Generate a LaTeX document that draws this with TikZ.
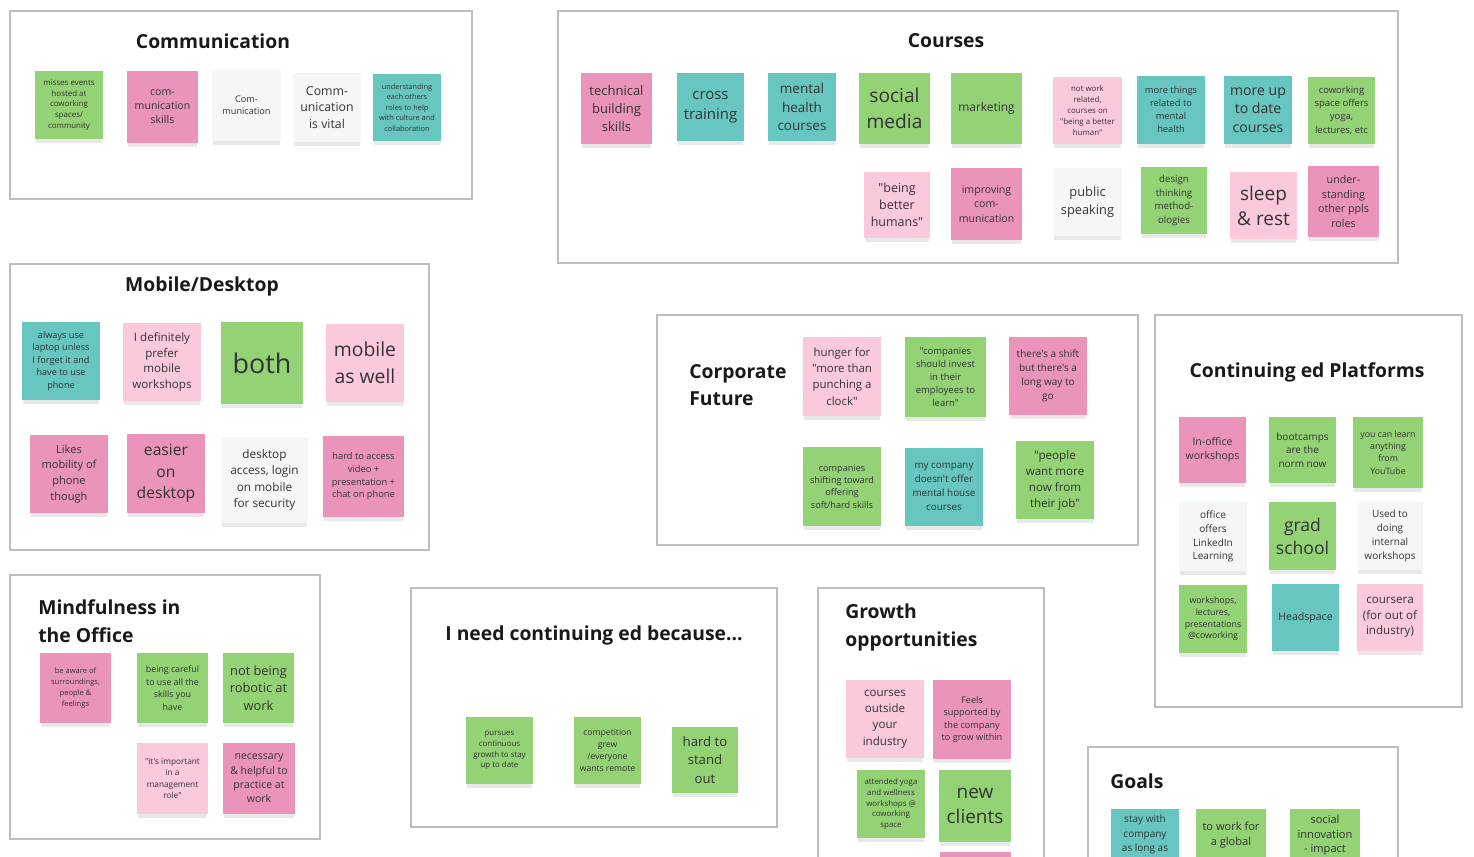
\documentclass[tikz,border=0pt]{standalone}
\usepackage{fontspec}
\setmainfont{Open Sans}[Ligatures=TeXOff]
\usepackage{xcolor}
\usetikzlibrary{shadows}

\definecolor{notegreen}{HTML}{93D275}
\definecolor{noteteal}{HTML}{67C6C0}
\definecolor{notepink}{HTML}{EA94BB}
\definecolor{notelight}{HTML}{FBC9DC}
\definecolor{notewhite}{HTML}{F5F6F8}
\definecolor{boardline}{HTML}{BDBDBD}

\begin{document}
\begin{tikzpicture}[x=0.02cm, y=-0.02cm,
  board/.style={draw=boardline, line width=0.7pt, fill=white},
  heading/.style={font=\fontsize{11}{16}\selectfont\bfseries, text=black!90, inner sep=0pt, align=left},
  note/.style={align=center, inner sep=1pt, text=black!80,
    drop shadow={shadow xshift=0pt, shadow yshift=-3pt, shadow scale=0.97, opacity=0.18}},
  sz/.style 2 args={minimum width=#1*0.02cm, minimum height=#2*0.02cm},
  fs/.style 2 args={font=\fontsize{#1}{#2}\selectfont},
  gn/.style={note, fill=notegreen},
  tl/.style={note, fill=noteteal},
  pk/.style={note, fill=notepink},
  lp/.style={note, fill=notelight},
  wh/.style={note, fill=notewhite},
  goaltext/.style={anchor=north, align=center, inner sep=0pt, text=black!80}]

\useasboundingbox (0,0) rectangle (1474,856);
\clip (0,0) rectangle (1474,856);
\fill[white] (0,0) rectangle (1474,856);

% Communication
\draw[board] (10,11) rectangle (472,199);
\node[heading] (comtitle) at (213,41) {Communication};
\node[gn, sz={68}{68}, fs={4.5}{6.2}] (missesevents) at (69,105) {misses events\\hosted at\\coworking\\spaces/\\community};
\node[pk, sz={71}{72}, fs={6}{8}] (comskills) at (162.5,107) {com-\\munication\\skills};
\node[wh, sz={69}{71}, fs={5.2}{6.7}] (comword) at (246.5,105.5) {Com-\\munication};
\node[wh, sz={68}{69}, fs={7}{9.6}] (comvital) at (327,107.5) {Comm-\\unication\\is vital};
\node[tl, sz={68}{67}, fs={4.2}{5.9}] (roles) at (407,107.5) {understanding\\each others\\roles to help\\with culture and\\collaboration};

% Courses
\draw[board] (558,11) rectangle (1398,263);
\node[heading] (coursetitle) at (946,41) {Courses};
\node[pk, sz={71}{71}, fs={7.4}{10.4}] (technical) at (616.5,108.5) {technical\\building\\skills};
\node[tl, sz={67}{68}, fs={8.5}{11.3}] (cross) at (710.5,107) {cross\\training};
\node[tl, sz={68}{68}, fs={7.7}{10.5}] (mentalhealth) at (802,107) {mental\\health\\courses};
\node[gn, sz={71}{71}, fs={10.9}{14.7}] (socialmedia) at (894.5,108.5) {social\\media};
\node[gn, sz={71}{71}, fs={6.8}{9}] (marketing) at (986.5,108.5) {marketing};
\node[lp, sz={66}{66}, fs={7.1}{9.5}] (humans) at (897,205) {"being\\better\\humans"};
\node[pk, sz={71}{72}, fs={6}{8.3}] (improving) at (986.5,204) {improving\\com-\\munication};
\node[lp, sz={69}{67}, fs={4.5}{6.2}] (notwork) at (1087.5,110.5) {not work\\related,\\courses on\\"being a better\\human"};
\node[tl, sz={68}{68}, fs={5.3}{7.4}] (morethings) at (1171,110) {more things\\related to\\mental\\health};
\node[tl, sz={68}{68}, fs={8}{10.6}] (uptodate) at (1258,110) {more up\\to date\\courses};
\node[gn, sz={67}{67}, fs={5.4}{7.4}] (coworking) at (1341.5,110.5) {coworking\\space offers\\yoga,\\lectures, etc};
\node[wh, sz={69}{68}, fs={7.3}{10}] (public) at (1087.5,202) {public\\speaking};
\node[gn, sz={66}{67}, fs={5.5}{7.8}] (design) at (1174,200.5) {design\\thinking\\method-\\ologies};
\node[lp, sz={67}{67}, fs={10.8}{14.2}] (sleep) at (1263.5,205.5) {sleep\\\& rest};
\node[pk, sz={71}{71}, fs={6.1}{8.5}] (understanding) at (1343.5,201.5) {under-\\standing\\other ppls\\roles};

% Mobile/Desktop
\draw[board] (10,264) rectangle (429,550);
\node[heading] (mobiletitle) at (202,286) {Mobile/Desktop};
\node[tl, sz={78}{78}, fs={5.2}{7.1}] (laptop) at (61,361) {always use\\laptop unless\\I forget it and\\have to use\\phone};
\node[lp, sz={78}{78}, fs={6.6}{9}] (prefer) at (162,362) {I definitely\\prefer\\mobile\\workshops};
\node[gn, sz={82}{82}, fs={15.3}{20}] (both) at (262,363) {both};
\node[lp, sz={78}{78}, fs={11}{15.3}] (aswell) at (365,363) {mobile\\as well};
\node[pk, sz={78}{78}, fs={6.3}{9}] (likes) at (69,474) {Likes\\mobility of\\phone\\though};
\node[pk, sz={78}{79}, fs={8.9}{12.3}] (easier) at (166,473.5) {easier\\on\\desktop};
\node[wh, sz={87}{86}, fs={6.7}{9.4}] (security) at (264.5,480) {desktop\\access, login\\on mobile\\for security};
\node[pk, sz={81}{81}, fs={5.3}{7.2}] (hardaccess) at (363.5,476.5) {hard to access\\video +\\presentation +\\chat on phone};

% Corporate Future
\draw[board] (657,315) rectangle (1138,545);
\node[heading, anchor=west, font=\fontsize{11}{15.3}\selectfont\bfseries] (corptitle) at (689,385.5) {Corporate\\Future};
\node[lp, sz={78}{79}, fs={6.5}{9.2}] (hunger) at (842,376.5) {hunger for\\"more than\\punching a\\clock"};
\node[gn, sz={81}{80}, fs={5.4}{7.5}] (invest) at (945.5,377) {"companies\\should invest\\in their\\employees to\\learn"};
\node[pk, sz={78}{78}, fs={5.7}{8}] (shift) at (1048,376) {there's a shift\\but there's a\\long way to\\go};
\node[gn, sz={78}{79}, fs={5.2}{6.9}] (shifting) at (842,486.5) {companies\\shifting toward\\offering\\soft/hard skills};
\node[tl, sz={78}{78}, fs={5.6}{7.9}] (mycompany) at (944,487) {my company\\doesn't offer\\mental house\\courses};
\node[gn, sz={78}{78}, fs={6.6}{9.1}] (wantmore) at (1055,480) {"people\\want more\\now from\\their job"};

% Continuing ed Platforms
\draw[board] (1155,315) rectangle (1462,707);
\node[heading] (platformtitle) at (1307,372) {Continuing ed Platforms};
\node[pk, sz={67}{66}, fs={6}{8}] (inoffice) at (1212.5,450) {In-office\\workshops};
\node[gn, sz={67}{66}, fs={5.7}{7.7}] (bootcamps) at (1302.5,450) {bootcamps\\are the\\norm now};
\node[gn, sz={70}{71}, fs={5}{7}] (youtube) at (1388,452.5) {you can learn\\anything\\from\\YouTube};
\node[wh, sz={68}{69}, fs={5.7}{7.9}] (linkedin) at (1213,536.5) {office\\offers\\LinkedIn\\Learning};
\node[gn, sz={67}{68}, fs={10}{13.2}] (gradschool) at (1302.5,536) {grad\\school};
\node[wh, sz={66}{68}, fs={5.7}{7.9}] (usedto) at (1390,536) {Used to\\doing\\internal\\workshops};
\node[gn, sz={68}{68}, fs={5}{6.7}] (atcoworking) at (1213,619) {workshops,\\lectures,\\presentations\\@coworking};
\node[tl, sz={67}{67}, fs={6}{8}] (headspace) at (1305.5,617.5) {Headspace};
\node[lp, sz={66}{67}, fs={6.6}{8.8}] (coursera) at (1390,617.5) {coursera\\(for out of\\industry)};

% Mindfulness in the Office
\draw[board] (10,575) rectangle (320,839);
\node[heading, anchor=west] (mindtitle) at (38,621.5) {Mindfulness in\\the Office};
\node[pk, sz={71}{70}, fs={4.3}{6.4}] (aware) at (75.5,688) {be aware of\\surroundings,\\people \&\\feelings};
\node[gn, sz={71}{70}, fs={5}{7.2}] (careful) at (172.5,688) {being careful\\to use all the\\skills you\\have};
\node[gn, sz={71}{70}, fs={7.3}{9.9}] (robotic) at (258.5,688) {not being\\robotic at\\work};
\node[lp, sz={71}{71}, fs={4.7}{6.6}] (important) at (172.5,778.5) {"it's important\\in a\\management\\role"};
\node[pk, sz={72}{71}, fs={6}{8.2}] (necessary) at (259,778.5) {necessary\\\& helpful to\\practice at\\work};

% I need continuing ed because...
\draw[board] (411,588) rectangle (777,827);
\node[heading] (needtitle) at (594,635) {I need continuing ed because...};
\node[gn, sz={67}{67}, fs={4.5}{6.1}] (pursues) at (499.5,750.5) {pursues\\continuous\\growth to stay\\up to date};
\node[gn, sz={67}{67}, fs={4.9}{6.7}] (competition) at (607.5,750.5) {competition\\grew\\/everyone\\wants remote};
\node[gn, sz={66}{66}, fs={7.5}{10.4}] (standout) at (705,760) {hard to\\stand\\out};

% Growth opportunities
\draw[board] (818,588) rectangle (1044,880);
\node[heading, anchor=west] (growthtitle) at (845,627.5) {Growth\\opportunities};
\node[lp, sz={78}{78}, fs={6.6}{9.3}] (outside) at (885,719) {courses\\outside\\your\\industry};
\node[pk, sz={78}{79}, fs={5.2}{7.1}] (supported) at (972,719.5) {Feels\\supported by\\the company\\to grow within};
\node[gn, sz={68}{68}, fs={4.5}{6.2}] (yoga) at (891,804) {attended yoga\\and wellness\\workshops @\\coworking\\space};
\node[gn, sz={72}{72}, fs={10.8}{14.6}] (clients) at (975,806) {new\\clients};
\node[pk, sz={71}{70}] (growthnext) at (975.5,887) {};

% Goals
\draw[board] (1088,747) rectangle (1398,880);
\node[heading, anchor=west] (goaltitle) at (1110,781) {Goals};
\node[tl, sz={68}{68}] (staywith) at (1145,843) {};
\node[goaltext, fs={5.7}{8.2}] (staytext) at ([yshift=-0.12cm]staywith.north) {stay with\\company\\as long as};
\node[gn, sz={70}{70}] (globalwork) at (1231,844) {};
\node[goaltext, fs={6.3}{8.5}] (globaltext) at ([yshift=-0.26cm]globalwork.north) {to work for\\a global};
\node[gn, sz={70}{70}] (innovation) at (1325,844) {};
\node[goaltext, fs={6.3}{8.3}] (innovationtext) at ([yshift=-0.12cm]innovation.north) {social\\innovation\\- impact};
\end{tikzpicture}
\end{document}
